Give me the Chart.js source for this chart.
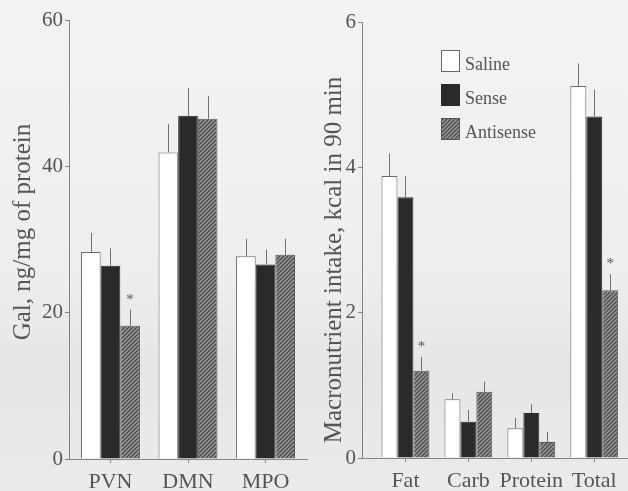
<!DOCTYPE html>
<html>
<head>
<meta charset="utf-8">
<script src="https://cdn.jsdelivr.net/npm/chart.js@4.4.1/dist/chart.umd.min.js"></script>
<style>
  html, body { margin:0; padding:0; }
  body { width:628px; height:491px; overflow:hidden;
    background: linear-gradient(180deg, #f3f3f3 0%, #eeeeee 55%, #e6e6e6 75%, #ebebeb 100%); }
  #wrap { position:relative; width:628px; height:491px; }
  canvas { position:absolute; top:0; }
  #c1 { left:0; }
  #c2 { left:314px; }
</style>
</head>
<body>
<div id="wrap">
  <canvas id="c1" width="314" height="491"></canvas>
  <canvas id="c2" width="314" height="491"></canvas>
</div>
<script>
// ---------- DATA ----------
const seriesNames = ['Saline', 'Sense', 'Antisense'];

// Left panel: Gal, ng/mg of protein
const galCategories = ['PVN', 'DMN', 'MPO'];
const galSaline     = [28.3, 41.9, 27.7];
const galSense      = [26.4, 46.9, 26.6];
const galAntisense  = [18.2, 46.5, 27.9];
const galSalineSem    = [2.6, 3.9, 2.4];
const galSenseSem     = [2.4, 3.8, 2.0];
const galAntisenseSem = [2.2, 3.1, 2.2];
const galSignificant  = [[false,false,false],[false,false,false],[true,false,false]]; // [series][category]
const galTicks = [0, 20, 40, 60];

// Right panel: Macronutrient intake, kcal in 90 min
const kcalCategories = ['Fat', 'Carb', 'Protein', 'Total'];
const kcalSaline     = [3.88, 0.81, 0.41, 5.12];
const kcalSense      = [3.59, 0.50, 0.62, 4.70];
const kcalAntisense  = [1.20, 0.91, 0.22, 2.31];
const kcalSalineSem    = [0.31, 0.08, 0.14, 0.31];
const kcalSenseSem     = [0.29, 0.16, 0.12, 0.37];
const kcalAntisenseSem = [0.19, 0.14, 0.14, 0.22];
const kcalSignificant  = [[false,false,false,false],[false,false,false,false],[true,false,false,true]];
const kcalTicks = [0, 2, 4, 6];

// ---------- STYLE ----------
const FONT = "'Liberation Serif', 'Times New Roman', serif";
const TEXT = '#555555';
const AXIS = '#858585';

function hatchPattern() {
  const c = document.createElement('canvas');
  c.width = 4; c.height = 4;
  const g = c.getContext('2d');
  g.fillStyle = '#949494';
  g.fillRect(0, 0, 4, 4);
  g.strokeStyle = '#3e3e3e';
  g.lineWidth = 1.1;
  g.beginPath();
  g.moveTo(-1, 5); g.lineTo(5, -1);
  g.moveTo(-1, 1); g.lineTo(1, -1);
  g.moveTo(3, 5); g.lineTo(5, 3);
  g.stroke();
  return g.createPattern(c, 'repeat');
}
const hatch = hatchPattern();
const fills = ['#ffffff', '#2a2a2a', hatch];
const borders = ['#6a6a6a', '#2a2a2a', '#555555'];

const errorBarPlugin = {
  id: 'errorBars',
  afterDatasetsDraw(chart) {
    const { ctx } = chart;
    const yScale = chart.scales.y;
    const sems = chart.options.plugins.errorBars.sems;
    const sig = chart.options.plugins.errorBars.sig;
    ctx.save();
    chart.data.datasets.forEach((ds, d) => {
      const meta = chart.getDatasetMeta(d);
      meta.data.forEach((bar, i) => {
        const v = ds.data[i].y;
        const top = yScale.getPixelForValue(v + sems[d][i]);
        const x = Math.round(bar.x) + 0.5;
        ctx.strokeStyle = '#707070';
        ctx.lineWidth = 1;
        ctx.beginPath();
        ctx.moveTo(x, bar.y);
        ctx.lineTo(x, top);
        ctx.stroke();
        if (sig[d][i]) {
          ctx.fillStyle = '#555';
          ctx.font = '15px ' + FONT;
          ctx.textAlign = 'center';
          ctx.textBaseline = 'middle';
          ctx.fillText('*', bar.x, top - 10);
        }
      });
    });
    ctx.restore();
  }
};

const axisTitlePlugin = {
  id: 'axisTitle',
  afterDraw(chart) {
    const o = chart.options.plugins.axisTitle;
    const { ctx } = chart;
    ctx.save();
    ctx.translate(o.x, o.y);
    ctx.rotate(-Math.PI / 2);
    ctx.font = o.size + 'px ' + FONT;
    ctx.fillStyle = TEXT;
    ctx.textAlign = 'center';
    ctx.textBaseline = 'middle';
    ctx.fillText(o.text, 0, 0);
    ctx.restore();
  }
};

const legendPlugin = {
  id: 'boxLegend',
  afterDraw(chart) {
    const o = chart.options.plugins.boxLegend;
    if (!o || !o.show) return;
    const { ctx } = chart;
    ctx.save();
    chart.data.datasets.forEach((ds, d) => {
      const y = o.y + d * o.step;
      ctx.fillStyle = ds.backgroundColor;
      ctx.fillRect(o.x, y, o.w, o.h);
      ctx.strokeStyle = ds.borderColor;
      ctx.lineWidth = 1;
      ctx.strokeRect(o.x + 0.5, y + 0.5, o.w - 1, o.h - 1);
      ctx.fillStyle = TEXT;
      ctx.font = o.size + 'px ' + FONT;
      ctx.textAlign = 'left';
      ctx.textBaseline = 'middle';
      ctx.fillText(ds.label, o.x + o.w + 5, y + o.h / 2 + 4);
    });
    ctx.restore();
  }
};

function makeChart(id, cats, values, sems, sig, ticks, cfg) {
  const datasets = seriesNames.map((name, d) => ({
    label: name,
    data: cats.map((c, i) => ({ x: i, y: values[d][i] })),
    backgroundColor: fills[d],
    borderColor: borders[d],
    borderWidth: 1,
    categoryPercentage: 0.76,
    barPercentage: 1.0
  }));
  return new Chart(document.getElementById(id), {
    type: 'bar',
    data: { datasets },
    plugins: [errorBarPlugin, axisTitlePlugin, legendPlugin],
    options: {
      responsive: false,
      animation: false,
      devicePixelRatio: 1,
      layout: { padding: cfg.padding },
      plugins: {
        legend: { display: false },
        tooltip: { enabled: false },
        errorBars: { sems, sig },
        axisTitle: cfg.title,
        boxLegend: cfg.legend || { show: false }
      },
      scales: {
        x: {
          type: 'linear',
          offset: false,
          min: cfg.xmin, max: cfg.xmax,
          afterBuildTicks: (s) => { s.ticks = cats.map((c, i) => ({ value: i })); },
          afterFit: (s) => { s.height = cfg.xHeight; },
          ticks: {
            autoSkip: false, maxRotation: 0, padding: 6,
            color: TEXT, font: { family: FONT, size: 22 },
            callback: (v) => cats[v]
          },
          grid: { offset: false, drawOnChartArea: false, drawTicks: true, tickLength: 4, color: AXIS },
          border: { color: AXIS, width: 1 }
        },
        y: {
          min: ticks[0], max: ticks[ticks.length - 1],
          afterBuildTicks: (s) => { s.ticks = ticks.map(v => ({ value: v })); },
          afterFit: (s) => { s.width = cfg.yWidth; },
          ticks: { color: TEXT, font: { family: FONT, size: 21 }, padding: 2 },
          grid: { drawOnChartArea: false, drawTicks: true, tickLength: 4, color: AXIS },
          border: { color: AXIS, width: 1 }
        }
      }
    }
  });
}

makeChart('c1', galCategories,
  [galSaline, galSense, galAntisense],
  [galSalineSem, galSenseSem, galAntisenseSem],
  galSignificant, galTicks,
  { padding: { top: 20, right: 7, bottom: 0, left: 0 },
    xmin: -0.535, xmax: 2.535, xHeight: 32, yWidth: 69,
    title: { text: 'Gal, ng/mg of protein', x: 23, y: 232, size: 25 } });

makeChart('c2', kcalCategories,
  [kcalSaline, kcalSense, kcalAntisense],
  [kcalSalineSem, kcalSenseSem, kcalAntisenseSem],
  kcalSignificant, kcalTicks,
  { padding: { top: 22, right: 1, bottom: 0, left: 0 },
    xmin: -0.69, xmax: 3.52, xHeight: 33, yWidth: 48,
    title: { text: 'Macronutrient intake, kcal in 90 min', x: 20, y: 260, size: 25 },
    legend: { show: true, x: 127, y: 50, w: 19, h: 22, step: 34, size: 18 } });
</script>
</body>
</html>
